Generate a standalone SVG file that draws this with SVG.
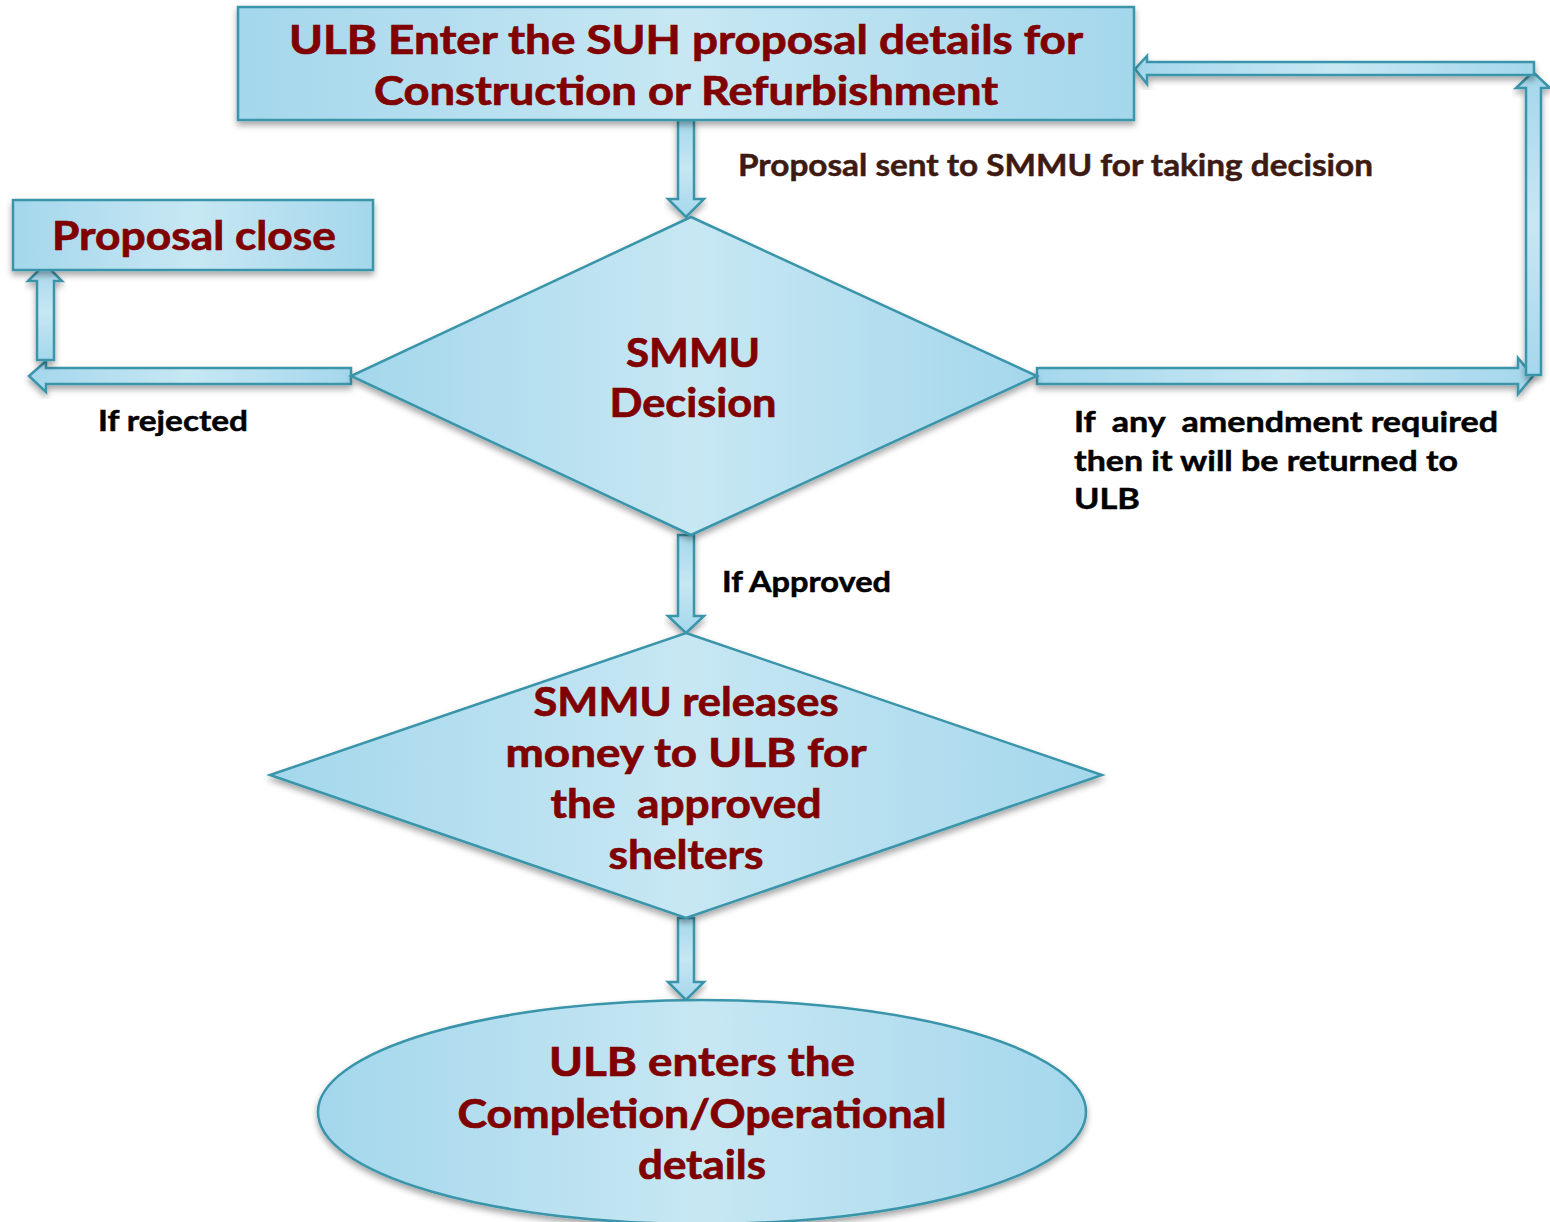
<svg xmlns="http://www.w3.org/2000/svg" width="1550" height="1222" viewBox="0 0 1550 1222">
  <defs>
    <linearGradient id="gh" x1="0" y1="0" x2="1" y2="0">
      <stop offset="0" stop-color="#a4d7ec"/>
      <stop offset="0.5" stop-color="#c7e7f3"/>
      <stop offset="1" stop-color="#a4d7ec"/>
    </linearGradient>
    <linearGradient id="gv" x1="0" y1="0" x2="0" y2="1">
      <stop offset="0" stop-color="#a4d7ec"/>
      <stop offset="0.5" stop-color="#c7e7f3"/>
      <stop offset="1" stop-color="#a4d7ec"/>
    </linearGradient>
    <filter id="sh" x="-10%" y="-10%" width="120%" height="130%">
      <feDropShadow dx="0" dy="4" stdDeviation="3" flood-color="#000" flood-opacity="0.35"/>
    </filter>
    <style>
      .node { fill: url(#gh); stroke: #3a95aa; stroke-width: 2.5; filter: url(#sh); }
      .arrh { fill: url(#gh); stroke: #3a95aa; stroke-width: 2.5; stroke-linejoin: miter; filter: url(#sh); }
      .arrv { fill: url(#gv); stroke: #3a95aa; stroke-width: 2.5; stroke-linejoin: miter; filter: url(#sh); }
      text { white-space: pre; }
      .t { font-family: "Lato", "Open Sans", "Liberation Sans", sans-serif; font-weight: bold; fill: #800000; stroke: #800000; stroke-width: 0.7; font-size: 40px; text-anchor: middle; }
      .lbl { font-family: "Lato", "Open Sans", "Liberation Sans", sans-serif; font-weight: bold; fill: #000; stroke: #000; stroke-width: 0.5; font-size: 29px; }
      .lbl2 { font-family: "Lato", "Open Sans", "Liberation Sans", sans-serif; font-weight: bold; fill: #3d1a12; stroke: #3d1a12; stroke-width: 0.5; font-size: 30px; }
    </style>
  </defs>

  <g id="connectors">
    <polygon class="arrv" points="678,120 694,120 694,199 704,199 686,217 668,199 678,199"/>
    <polygon class="arrv" points="678,535 694,535 694,616 704,616 686,633 668,616 678,616"/>
    <polygon class="arrv" points="678,918 694,918 694,982 704,982 686,1000 668,982 678,982"/>
    <polygon class="arrh" points="351,368 46,368 46,361 29,376 46,392 46,384 351,384"/>
    <polygon class="arrv" points="37,360 54,360 54,281 62,281 45,264 28,281 37,281"/>
    <polygon class="arrh" points="1037,368 1518,368 1518,358 1533,376 1518,394 1518,384 1037,384"/>
    <polygon class="arrv" points="1526,375 1541,375 1541,88 1550,88 1533,72 1516,88 1526,88"/>
    <polygon class="arrh" points="1534,62 1534,75 1147,75 1147,84 1135,69 1147,56 1147,62"/>
  </g>

  <g id="n_ulb_enter">
    <rect class="node" x="238" y="7" width="896" height="113"/>
    <text class="t" x="686" y="54" textLength="794" lengthAdjust="spacingAndGlyphs">ULB Enter the SUH proposal details for</text>
    <text class="t" x="686" y="105" textLength="624" lengthAdjust="spacingAndGlyphs">Construction or Refurbishment</text>
  </g>

  <g id="n_close">
    <rect class="node" x="13" y="200" width="360" height="70"/>
    <text class="t" x="194" y="250" textLength="284" lengthAdjust="spacingAndGlyphs">Proposal close</text>
  </g>

  <g id="n_decision">
    <polygon class="node" points="691,217 1037,376 691,535 351,376"/>
    <text class="t" x="693" y="367" textLength="134" lengthAdjust="spacingAndGlyphs">SMMU</text>
    <text class="t" x="693" y="417" textLength="167" lengthAdjust="spacingAndGlyphs">Decision</text>
  </g>

  <g id="n_release">
    <polygon class="node" points="686,633 1102,775 686,918 270,775"/>
    <text class="t" x="686" y="716" textLength="305" lengthAdjust="spacingAndGlyphs">SMMU releases</text>
    <text class="t" x="686" y="767" textLength="361" lengthAdjust="spacingAndGlyphs">money to ULB for</text>
    <text class="t" x="686" y="818" textLength="271" lengthAdjust="spacingAndGlyphs">the  approved</text>
    <text class="t" x="686" y="869" textLength="155" lengthAdjust="spacingAndGlyphs">shelters</text>
  </g>

  <g id="n_complete">
    <ellipse class="node" cx="702" cy="1112" rx="384" ry="112"/>
    <text class="t" x="702" y="1076" textLength="306" lengthAdjust="spacingAndGlyphs">ULB enters the</text>
    <text class="t" x="702" y="1128" textLength="489" lengthAdjust="spacingAndGlyphs">Completion/Operational</text>
    <text class="t" x="702" y="1179" textLength="128" lengthAdjust="spacingAndGlyphs">details</text>
  </g>

  <g id="labels">
    <text class="lbl2" x="738" y="176" textLength="635" lengthAdjust="spacingAndGlyphs">Proposal sent to SMMU for taking decision</text>
    <text class="lbl" x="98" y="431" textLength="150" lengthAdjust="spacingAndGlyphs">If rejected</text>
    <text class="lbl" x="1074" y="432" textLength="424" lengthAdjust="spacingAndGlyphs">If  any  amendment required</text>
    <text class="lbl" x="1074" y="471" textLength="384" lengthAdjust="spacingAndGlyphs">then it will be returned to</text>
    <text class="lbl" x="1074" y="509" textLength="66" lengthAdjust="spacingAndGlyphs">ULB</text>
    <text class="lbl" x="722" y="592" textLength="169" lengthAdjust="spacingAndGlyphs">If Approved</text>
  </g>
</svg>
